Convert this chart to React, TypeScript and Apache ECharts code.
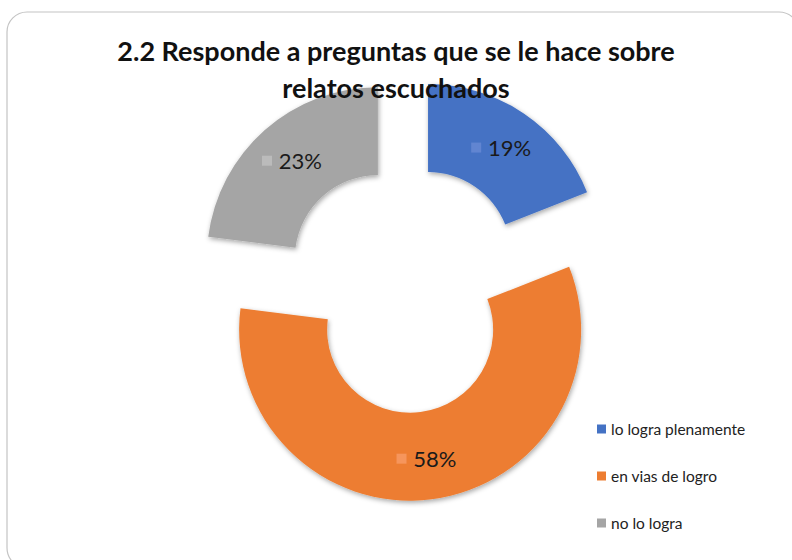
import React, { useEffect, useRef } from "react";
import * as echarts from "echarts";

const categories = ["lo logra plenamente", "en vias de logro", "no lo logra"];
const values = [19, 58, 23];
const colors = ["#4472C4", "#ED7D31", "#A5A5A5"];
const keyColors = ["rgba(120,150,220,0.55)", "rgba(250,160,110,0.7)", "rgba(190,190,190,0.9)"];
const titleText = "2.2 Responde a preguntas que se le hace sobre\nrelatos escuchados";

export default function App() {
  const ref = useRef<HTMLDivElement>(null);
  useEffect(() => {
    document.body.style.margin = "0";
    const chart = echarts.init(ref.current!, null, { renderer: "svg" });
    chart.setOption({
      animation: false,
      backgroundColor: "#ffffff",
      title: {
        text: titleText,
        left: "center",
        top: 27,
        textStyle: {
          fontFamily: "Lato",
          fontWeight: "bold",
          fontSize: 27,
          lineHeight: 37,
          color: "#111111",
        },
      },
      graphic: [
        {
          type: "rect",
          shape: { x: 7, y: 12, width: 792, height: 556, r: 20 },
          style: { fill: "none", stroke: "#c4c4c4", lineWidth: 1.2 },
          z: -1,
        },
      ],
      legend: {
        orient: "vertical",
        left: 592,
        top: 416,
        itemWidth: 9,
        itemHeight: 9,
        itemGap: 31,
        icon: "rect",
        textStyle: { fontFamily: "Lato", fontSize: 15.5, color: "#222222" },
        data: categories,
      },
      series: [
        {
          type: "pie",
          center: [405, 289],
          radius: [83, 171],
          startAngle: 90,
          clockwise: true,
          selectedMode: "multiple",
          selectedOffset: 41,
          avoidLabelOverlap: false,
          emphasis: { disabled: true },
          itemStyle: {
            shadowBlur: 5,
            shadowColor: "rgba(0,0,0,0.35)",
            shadowOffsetX: 1,
            shadowOffsetY: 2,
          },
          label: {
            show: true,
            position: "inside",
            formatter: (p: any) => "{k" + p.dataIndex + "|}  {v|" + p.value + "%}",
            rich: {
              v: { fontFamily: "Lato", fontSize: 22, color: "#1a1a1a" },
              k0: { width: 10, height: 10, backgroundColor: keyColors[0] },
              k1: { width: 10, height: 10, backgroundColor: keyColors[1] },
              k2: { width: 10, height: 10, backgroundColor: keyColors[2] },
            },
          },
          labelLine: { show: false },
          data: categories.map((c, i) => ({
            name: c,
            value: values[i],
            selected: true,
            itemStyle: { color: colors[i] },
          })),
        },
      ],
    });
    return () => chart.dispose();
  }, []);
  return <div ref={ref} style={{ width: 792, height: 560 }} />;
}
